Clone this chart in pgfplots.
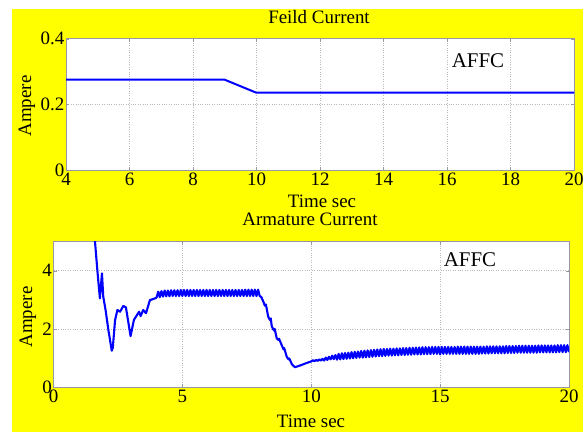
\documentclass[border=0pt]{standalone}
\usepackage{fontspec}
\setmainfont{Liberation Serif}
\usepackage{pgfplots}
\usepackage{pgfplotstable}
\pgfplotsset{compat=1.18}
\definecolor{matblue}{RGB}{0,0,255}
\definecolor{bgyellow}{RGB}{255,255,0}
\definecolor{framegray}{RGB}{150,150,165}

% field current (A) vs time (s)
\pgfplotstableread{
t i
4 0.275
9 0.275
9.98 0.236
20 0.236
}\field

% armature current (A) vs time (s), ripple
\pgfplotstableread{
t i
1.55 5.6
1.61 5.0
1.70 4.03
1.80 3.05
1.88 3.91
1.93 3.11
2.02 2.65
2.13 1.96
2.26 1.25
2.30 1.35
2.39 2.31
2.48 2.65
2.58 2.59
2.71 2.79
2.81 2.74
2.99 1.75
3.12 2.31
3.32 2.59
3.38 2.44
3.48 2.65
3.59 2.54
3.74 2.99
3.94 3.05
4.0 3.08
4.0625 3.28
4.125 3.09
4.1875 3.30
4.25 3.11
4.3125 3.32
4.375 3.12
4.4375 3.32
4.5 3.12
4.5625 3.33
4.625 3.13
4.6875 3.33
4.75 3.13
4.8125 3.33
4.875 3.13
4.9375 3.34
5.0 3.13
5.0625 3.34
5.125 3.13
5.1875 3.34
5.25 3.13
5.3125 3.34
5.375 3.13
5.4375 3.34
5.5 3.13
5.5625 3.34
5.625 3.13
5.6875 3.34
5.75 3.13
5.8125 3.34
5.875 3.13
5.9375 3.34
6.0 3.13
6.0625 3.34
6.125 3.13
6.1875 3.34
6.25 3.13
6.3125 3.34
6.375 3.13
6.4375 3.34
6.5 3.13
6.5625 3.34
6.625 3.13
6.6875 3.34
6.75 3.13
6.8125 3.34
6.875 3.13
6.9375 3.34
7.0 3.13
7.0625 3.34
7.125 3.13
7.1875 3.34
7.25 3.13
7.3125 3.34
7.375 3.13
7.4375 3.35
7.5 3.13
7.5625 3.35
7.625 3.13
7.6875 3.35
7.75 3.13
7.8125 3.35
7.875 3.13
7.9375 3.35
8.0 3.13
8.06 3.10
8.14 2.94
8.20 2.80
8.24 2.84
8.33 2.42
8.40 2.30
8.43 2.36
8.47 2.08
8.55 1.95
8.58 2.00
8.66 1.68
8.72 1.62
8.75 1.66
8.85 1.45
8.92 1.30
8.95 1.34
9.05 1.04
9.12 0.95
9.15 0.98
9.25 0.78
9.37 0.68
9.5 0.72
9.63 0.76
9.8 0.82
10.0 0.88
10.0625 0.92
10.125 0.89
10.1875 0.93
10.25 0.90
10.3125 0.95
10.375 0.91
10.4375 0.97
10.5 0.91
10.5625 1.01
10.625 0.93
10.6875 1.04
10.75 0.95
10.8125 1.08
10.875 0.96
10.9375 1.10
11.0 0.94
11.0625 1.14
11.125 0.95
11.1875 1.16
11.25 0.96
11.3125 1.17
11.375 0.97
11.4375 1.18
11.5 0.98
11.5625 1.20
11.625 0.99
11.6875 1.21
11.75 1.00
11.8125 1.22
11.875 1.01
11.9375 1.24
12.0 1.01
12.0625 1.25
12.125 1.02
12.1875 1.26
12.25 1.03
12.3125 1.27
12.375 1.04
12.4375 1.28
12.5 1.05
12.5625 1.29
12.625 1.06
12.6875 1.30
12.75 1.06
12.8125 1.31
12.875 1.07
12.9375 1.31
13.0 1.08
13.0625 1.32
13.125 1.08
13.1875 1.32
13.25 1.09
13.3125 1.33
13.375 1.09
13.4375 1.33
13.5 1.10
13.5625 1.34
13.625 1.10
13.6875 1.34
13.75 1.11
13.8125 1.35
13.875 1.11
13.9375 1.35
14.0 1.12
14.0625 1.36
14.125 1.12
14.1875 1.36
14.25 1.12
14.3125 1.37
14.375 1.13
14.4375 1.37
14.5 1.13
14.5625 1.37
14.625 1.13
14.6875 1.38
14.75 1.14
14.8125 1.38
14.875 1.14
14.9375 1.38
15.0 1.12
15.0625 1.38
15.125 1.14
15.1875 1.38
15.25 1.14
15.3125 1.38
15.375 1.14
15.4375 1.38
15.5 1.14
15.5625 1.38
15.625 1.14
15.6875 1.39
15.75 1.14
15.8125 1.39
15.875 1.14
15.9375 1.39
16.0 1.14
16.0625 1.39
16.125 1.14
16.1875 1.39
16.25 1.14
16.3125 1.39
16.375 1.14
16.4375 1.39
16.5 1.14
16.5625 1.39
16.625 1.15
16.6875 1.39
16.75 1.15
16.8125 1.40
16.875 1.15
16.9375 1.40
17.0 1.16
17.0625 1.40
17.125 1.16
17.1875 1.40
17.25 1.16
17.3125 1.40
17.375 1.16
17.4375 1.40
17.5 1.16
17.5625 1.41
17.625 1.17
17.6875 1.41
17.75 1.17
17.8125 1.41
17.875 1.17
17.9375 1.41
18.0 1.18
18.0625 1.42
18.125 1.18
18.1875 1.42
18.25 1.18
18.3125 1.42
18.375 1.18
18.4375 1.42
18.5 1.18
18.5625 1.42
18.625 1.18
18.6875 1.42
18.75 1.18
18.8125 1.43
18.875 1.19
18.9375 1.43
19.0 1.19
19.0625 1.43
19.125 1.19
19.1875 1.43
19.25 1.19
19.3125 1.43
19.375 1.19
19.4375 1.43
19.5 1.19
19.5625 1.44
19.625 1.20
19.6875 1.44
19.75 1.20
19.8125 1.44
19.875 1.20
19.9375 1.44
20.0 1.20
}\armature

\begin{document}
\begin{tikzpicture}
\useasboundingbox (0bp,0bp) rectangle (587bp,432bp);
\fill[bgyellow] (12bp,0bp) rectangle (583bp,423bp);

\pgfplotsset{
  matstyle/.style={
    scale only axis,
    anchor=south west,
    axis background/.style={fill=white},
    grid=major,
    grid style={dotted, gray!55, line width=0.6bp},
    axis line style={framegray, line width=0.7bp},
    tick style={framegray},
    tick align=inside,
    major tick length=3bp,
    tick label style={font=\fontsize{19}{19}\selectfont},
    yticklabel style={inner sep=1.5bp},
    xticklabel style={inner sep=3bp},
    /pgf/number format/assume math mode=true,
  }
}

\begin{axis}[matstyle,
  at={(66bp,262bp)}, width=508bp, height=131.3bp,
  xmin=4, xmax=20, ymin=0, ymax=0.4,
  xtick={4,6,...,20}, ytick={0,0.2,0.4},
  yticklabels={0,0.2,0.4},
]
\addplot[matblue, line width=2bp] table[x=t, y=i] {\field};
\end{axis}

\begin{axis}[matstyle,
  at={(53.5bp,45bp)}, width=515.5bp, height=145.3bp,
  xmin=0, xmax=20, ymin=0, ymax=5,
  xtick={0,5,...,20}, ytick={0,2,4},
]
\addplot[matblue, line width=2.1bp, line join=round] table[x=t, y=i] {\armature};
\end{axis}

\begin{scope}[every node/.style={font=\fontsize{19}{19}\selectfont, inner sep=0pt}]
\node[anchor=base] at (319bp,408bp) {Feild Current};
\node[anchor=base] at (322bp,224bp) {Time sec};
\node[anchor=base] at (310bp,206bp) {Armature Current};
\node[anchor=base] at (311bp,5bp) {Time sec};
\node[rotate=90] at (27bp,326bp) {Ampere};
\node[rotate=90] at (28bp,115bp) {Ampere};
\node[anchor=base, font=\fontsize{21}{21}\selectfont] at (478bp,364bp) {AFFC};
\node[anchor=base, font=\fontsize{21}{21}\selectfont] at (470bp,165bp) {AFFC};
\end{scope}
\end{tikzpicture}
\end{document}
